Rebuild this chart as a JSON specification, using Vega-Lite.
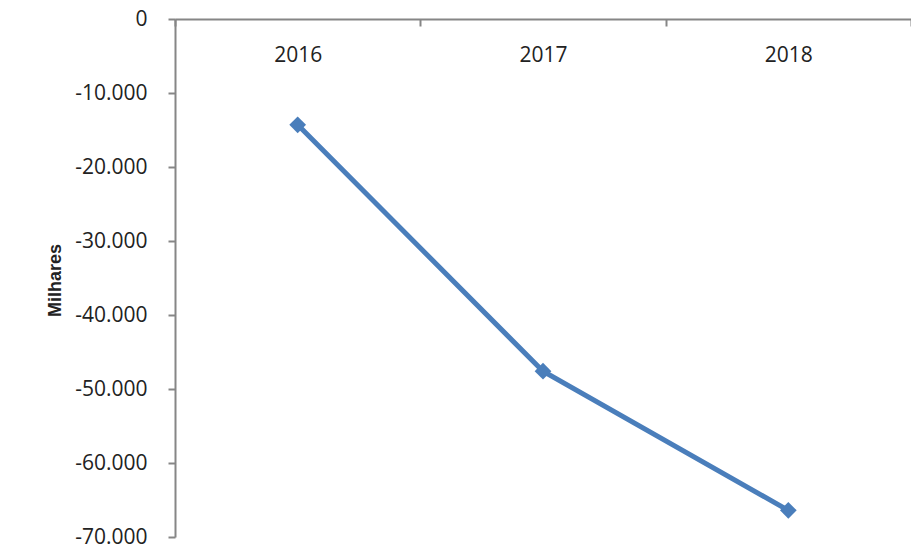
{
  "$schema": "https://vega.github.io/schema/vega-lite/v6.json",
  "width": 736,
  "height": 518,
  "autosize": {"type": "none"},
  "padding": {"left": 175, "top": 19, "right": 0, "bottom": 13},
  "background": "white",
  "config": {"view": {"stroke": null}, "font": "Open Sans"},
  "data": {"values": [
    {"ano": "2016", "valor": -14300},
    {"ano": "2017", "valor": -47600},
    {"ano": "2018", "valor": -66400}
  ]},
  "encoding": {
    "x": {"field": "ano", "type": "nominal", "sort": null,
      "scale": {"paddingInner": 0, "paddingOuter": 0},
      "axis": {"orient": "top", "title": null, "labelAngle": 0, "domainColor": "#868686", "domainWidth": 2,
        "tickBand": "extent", "tickColor": "#868686", "tickWidth": 2, "tickSize": -7,
        "labelPadding": -29, "labelBaseline": "middle", "labelFont": "Open Sans", "labelFontSize": 21, "labelColor": "#222222"}},
    "y": {"field": "valor", "type": "quantitative",
      "scale": {"domain": [-70000, 0], "nice": false},
      "axis": {"values": [0, -10000, -20000, -30000, -40000, -50000, -60000, -70000],
        "labelExpr": "datum.value == 0 ? '0' : '-' + format(-datum.value/1000, 'd') + '.000'",
        "grid": false, "domainColor": "#868686", "domainWidth": 2, "tickColor": "#868686", "tickWidth": 2, "tickSize": 7,
        "labelPadding": 21, "labelFont": "Open Sans", "labelFontSize": 21, "labelColor": "#222222",
        "title": "Milhares", "titleFont": "Liberation Sans", "titleFontSize": 18, "titleFontWeight": "bold", "titleColor": "#222222",
        "titleAngle": 270, "titleX": -120, "titleY": 261, "titleAlign": "center", "titleBaseline": "middle"}}
  },
  "layer": [
    {"mark": {"type": "line", "color": "#4a7ebb", "strokeWidth": 5}},
    {"mark": {"type": "point", "shape": "diamond", "filled": true, "color": "#4a7ebb", "size": 280, "opacity": 1}}
  ]
}
